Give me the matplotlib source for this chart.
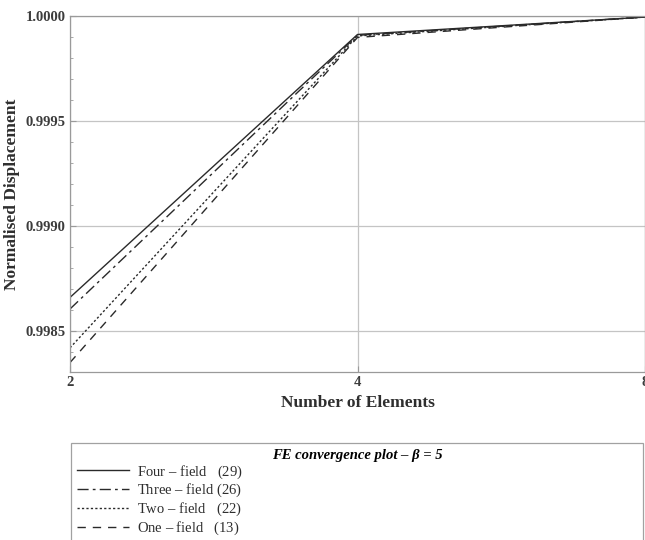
import matplotlib
matplotlib.use("Agg")
import matplotlib.pyplot as plt
from matplotlib.ticker import FixedLocator, NullFormatter, MultipleLocator

plt.rcParams["font.family"] = ["Liberation Serif", "DejaVu Serif"]
plt.rcParams["mathtext.fontset"] = "custom"
plt.rcParams["mathtext.rm"] = "Liberation Serif"
plt.rcParams["mathtext.it"] = "Liberation Serif:italic"

# number of elements per mesh
n_elements = [2, 4, 8]

# normalised tip displacement for each formulation
four_field = [0.998660, 0.999912, 0.999995]
three_field = [0.998605, 0.999908, 0.999995]
two_field = [0.998420, 0.999905, 0.999995]
one_field = [0.998350, 0.999898, 0.999995]

labels = [
    r"Four – field   $\mathit{(29)}$",
    r"Three – field $\mathit{(26)}$",
    r"Two – field   $\mathit{(22)}$",
    r"One – field   $\mathit{(13)}$",
]
series = [four_field, three_field, two_field, one_field]
styles = ["-", (0, (8, 3, 2, 3)), (0, (1.6, 1.6)), (0, (6, 5))]

fig = plt.figure(figsize=(6.45, 5.4), dpi=100)
ax = fig.add_axes([70 / 645, 1 - 372 / 540, 575 / 645, 356 / 540])

for vals, ls, lab in zip(series, styles, labels):
    ax.plot(n_elements, vals, color="#2a2a2a", lw=1.0, linestyle=ls, label=lab)

ax.set_xscale("log", base=2)
ax.set_xlim(2, 8)
ax.set_ylim(0.998305, 1.0)
ax.xaxis.set_major_locator(FixedLocator(n_elements))
ax.xaxis.set_minor_locator(FixedLocator([]))
ax.xaxis.set_minor_formatter(NullFormatter())
ax.set_xticklabels([str(n) for n in n_elements])
ax.yaxis.set_major_locator(MultipleLocator(0.0005))
ax.yaxis.set_minor_locator(MultipleLocator(0.0001))
ax.yaxis.set_major_formatter(matplotlib.ticker.FormatStrFormatter("%.4f"))

ax.grid(True, which="major", color="#c4c4c4", lw=0.9)
ax.set_axisbelow(True)
for sp in ax.spines.values():
    sp.set_color("#9a9a9a")
    sp.set_linewidth(0.9)

ax.tick_params(axis="both", which="major", direction="in", length=4,
               color="#9a9a9a", labelsize=10.5, labelcolor="#3c3c3c", pad=3)
ax.tick_params(axis="y", which="minor", direction="in", length=2, color="#9a9a9a")
for t in ax.get_xticklabels() + ax.get_yticklabels():
    t.set_fontweight("bold")

ax.set_xlabel("Number of Elements", fontsize=12.5, fontweight="bold",
              color="#2e2e2e", labelpad=4)
ax.set_ylabel("Normalised Displacement", fontsize=12.5, fontweight="bold",
              color="#2e2e2e")
ax.yaxis.set_label_coords(-50 / 575, 0.5)

leg = fig.legend(
    loc="upper left",
    bbox_to_anchor=(71 / 645, 0.0, 572 / 645, 1 - 443 / 540),
    mode="expand",
    borderaxespad=0.0,
    title="FE convergence plot – β = 5",
    title_fontproperties={"family": "Liberation Serif", "weight": "bold",
                          "style": "italic", "size": 10.5},
    fontsize=10.5,
    frameon=True,
    fancybox=False,
    handlelength=3.6,
    handletextpad=0.5,
    labelspacing=0.1,
    borderpad=0.4,
)
leg.get_frame().set_edgecolor("#8a8a8a")
leg.get_frame().set_linewidth(0.9)
for t in leg.get_texts():
    t.set_color("#2e2e2e")

fig.savefig("out.png", dpi=100)
